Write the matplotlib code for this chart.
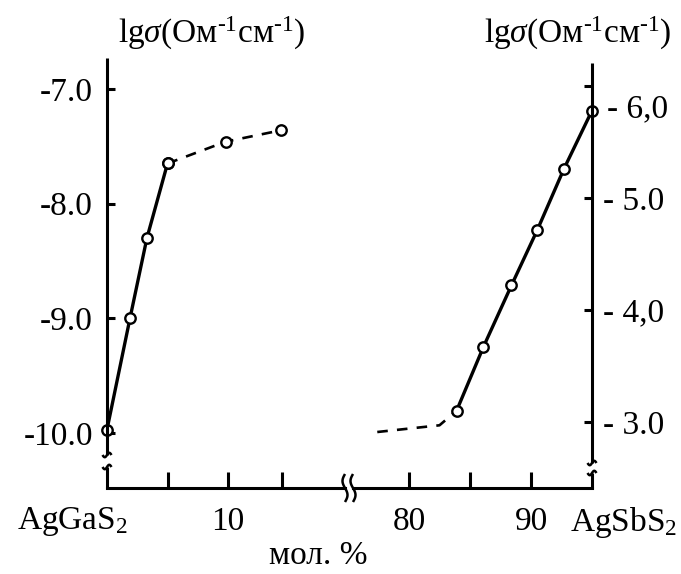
import numpy as np
import matplotlib
matplotlib.use("Agg")
import matplotlib.pyplot as plt

plt.rcParams['font.family'] = ['Liberation Serif', 'DejaVu Serif']
plt.rcParams['mathtext.fontset'] = 'custom'
plt.rcParams['mathtext.rm'] = 'Liberation Serif'
plt.rcParams['mathtext.it'] = 'Liberation Serif:italic'

# ---- data (mol. % , lg sigma) ----
left_solid_x = [0.0, 1.9, 3.3, 5.0]
left_solid_y = [-9.97, -9.0, -8.30, -7.65]
left_dash_x = [5.0, 9.8, 14.4]
left_dash_y = [-7.65, -7.46, -7.36]

right_dash_x = [77.4, 82.5, 83.9]
right_dash_y = [2.91, 2.97, 3.10]
right_solid_x = [83.9, 86.1, 88.4, 90.5, 92.7, 95.0]
right_solid_y = [3.10, 3.67, 4.22, 4.71, 5.26, 5.78]

left_yticks = [-10.0, -9.0, -8.0, -7.0]
left_yticklabels = ['-10.0', '-9.0', '-8.0', '-7.0']
right_yticks = [3.0, 4.0, 5.0, 6.0]
right_yticklabels = ['- 3.0', '- 4,0', '- 5.0', '']
left_xticks = [5, 10, 14.5]
left_xticklabels = ['', '10', '']
right_xticks = [80, 85, 90]
right_xticklabels = ['80', '', '90']

W, H = 681, 574
fig = plt.figure(figsize=(W / 100, H / 100), dpi=100)

def fx(px):
    return px / W

def fy(py):
    return 1 - py / H

LW = 2.2
FS = 24
bottom = fy(488)
height = (488 - 58) / H

ax1 = fig.add_axes([fx(107), bottom, (345 - 107) / W, height])
ax2 = fig.add_axes([fx(353), bottom, (592 - 353) / W, height])
for ax in (ax1, ax2):
    ax.patch.set_alpha(0)

ax1.set_xlim(0, 238 / 12.1)
ax1.set_ylim(-10.48, -6.73)
ax2.set_xlim(80 - 56 / 12.2, 95.0)
ax2.set_ylim(2.41, 6.25)

mk = dict(marker='o', ms=7.5, mfc='white', mec='black', mew=1.7, color='black', clip_on=False)
ax1.plot(left_solid_x, left_solid_y, lw=2.4, **mk, zorder=5)
ax1.plot(left_dash_x, left_dash_y, lw=1.9, ls=(0, (4, 3.5)), **mk, zorder=5)
ax2.plot(right_dash_x, right_dash_y, lw=1.9, ls=(0, (4, 3.5)), color='black', zorder=4)
ax2.plot(right_solid_x, right_solid_y, lw=2.4, **mk, zorder=5)

# spines
for s in ['top', 'right', 'left']:
    ax1.spines[s].set_visible(False)
for s in ['top', 'left', 'right']:
    ax2.spines[s].set_visible(False)
ax1.spines['bottom'].set_linewidth(LW)
ax2.spines['bottom'].set_linewidth(LW)

# left axis ticks
ax1.set_yticks(left_yticks)
ax1.set_yticklabels(left_yticklabels, fontsize=FS)
ax1.tick_params(axis='y', direction='in', length=6, width=LW, pad=10, left=True)
ax1.set_xticks(left_xticks)
ax1.set_xticklabels(left_xticklabels, fontsize=FS)
ax1.tick_params(axis='x', direction='in', length=11.5, width=LW, pad=13)

ax2.yaxis.tick_right()
ax2.set_yticks(right_yticks)
ax2.set_yticklabels(right_yticklabels, fontsize=FS)
ax2.tick_params(axis='y', direction='in', length=6, width=LW, pad=8, right=True, left=False)
ax2.set_xticks(right_xticks)
ax2.set_xticklabels(right_xticklabels, fontsize=FS)
ax2.tick_params(axis='x', direction='in', length=11.5, width=LW, pad=13)

# hand drawn axis lines with breaks (figure pixel coords)
def pline(xs, ys, lw=LW):
    fig.add_artist(plt.Line2D([fx(x) for x in xs], [fy(y) for y in ys],
                              transform=fig.transFigure, color='black', lw=lw,
                              solid_capstyle='butt'))

# left vertical spine
pline([107, 107], [58, 455])
pline([107, 107], [467, 489])
# right vertical spine
pline([592, 592], [63, 463])
pline([592, 592], [473, 489])

t = np.linspace(-1, 1, 30)
def htilde(cx, cy):
    pline(cx + 4.5 * t, cy - 2.2 * np.sin(np.pi * t), lw=1.8)
def vwave(cx, cy):
    pline(cx + 2.5 * np.sin(np.pi * t), cy + 14 * t, lw=1.8)

htilde(107, 455)
htilde(107, 467)
htilde(592, 463)
htilde(592, 473)
vwave(345, 488)
vwave(353, 488)

# labels
title = r'lg$\it{\sigma}$(Ом$^{\text{-}1}$см$^{\text{-}1}$)'
fig.text(fx(212), fy(33), title, fontsize=FS, ha='center', va='center')
fig.text(fx(578), fy(33), title, fontsize=FS, ha='center', va='center')
fig.text(fx(72), fy(522), r'AgGaS$_{2}$', fontsize=FS, ha='center', va='center')
fig.text(fx(624), fy(522), r'AgSbS$_{2}$', fontsize=FS, ha='center', va='center')
fig.text(fx(318), fy(556), 'мол. %', fontsize=FS, ha='center', va='center')
ax2.annotate('- 6,0', xy=(1.0, 5.79), xycoords=ax2.get_yaxis_transform(),
             xytext=(11, 0), textcoords='offset points', fontsize=FS,
             ha='left', va='center')

fig.savefig('out.png', dpi=100)
